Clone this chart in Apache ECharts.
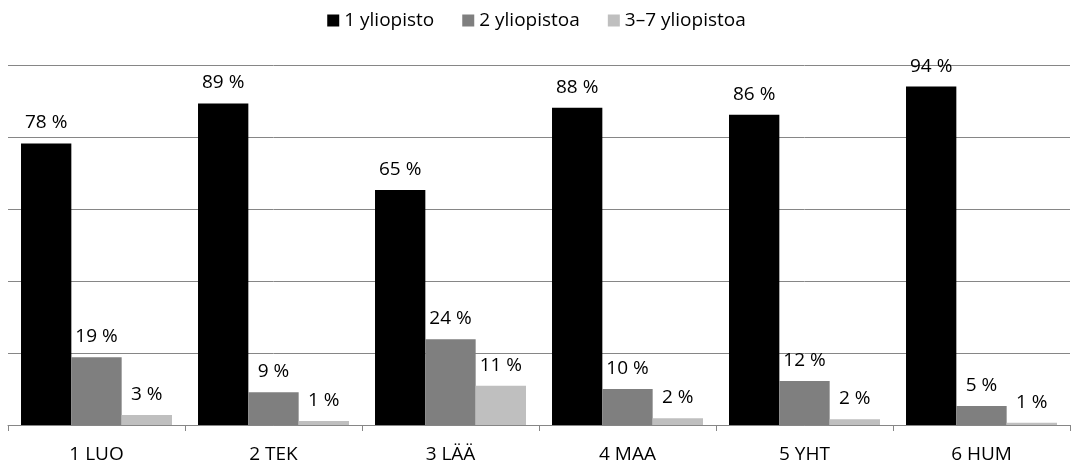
<!DOCTYPE html>
<html>
<head>
<meta charset="utf-8">
<script src="https://cdn.jsdelivr.net/npm/echarts@6/dist/echarts.min.js"></script>
<style>html,body{margin:0;padding:0;background:#fff;}#c{width:1073px;height:469px;}</style>
</head>
<body>
<div id="c"></div>
<script>
var categories = ['1 LUO', '2 TEK', '3 LÄÄ', '4 MAA', '5 YHT', '6 HUM'];
var seriesNames = ['1 yliopisto', '2 yliopistoa', '3\u20137 yliopistoa'];
var one = [78.2, 89.3, 65.3, 88.1, 86.2, 94.0];
var two = [18.8, 9.1, 23.8, 10.0, 12.2, 5.3];
var three = [2.8, 1.1, 10.9, 1.9, 1.6, 0.6];
var colors = ['#000000', '#7f7f7f', '#bfbfbf'];

var font = 'Open Sans, Liberation Sans, sans-serif';
function mk(name, data, color) {
  return {
    name: name, type: 'bar', data: data, barGap: '0%', barCategoryGap: '14.7%',
    itemStyle: { color: color },
    label: { show: true, position: 'top', distance: 11, color: '#000', fontSize: 19, fontFamily: font,
      formatter: function (p) { return Math.round(p.value) + ' %'; } }
  };
}
var chart = echarts.init(document.getElementById('c'));
chart.setOption({
  animation: false,
  legend: { top: 6, left: 'center', itemWidth: 12, itemHeight: 12, itemGap: 28, icon: 'rect',
    textStyle: { fontSize: 19, fontFamily: font, color: '#000' } },
  grid: { left: 8, right: 3, top: 65, bottom: 44, containLabel: false },
  xAxis: { type: 'category', data: categories,
    axisLine: { lineStyle: { color: '#868686', width: 1 } },
    axisTick: { show: true, alignWithLabel: false, length: 6, lineStyle: { color: '#868686' } },
    axisLabel: { fontSize: 19, fontFamily: font, color: '#000', margin: 20 } },
  yAxis: { type: 'value', min: 0, max: 100, interval: 20,
    axisLabel: { show: false }, axisLine: { show: false }, axisTick: { show: false },
    splitLine: { lineStyle: { color: '#868686', width: 1 } } },
  series: [mk(seriesNames[0], one, colors[0]), mk(seriesNames[1], two, colors[1]), mk(seriesNames[2], three, colors[2])]
});
</script>
</body>
</html>
